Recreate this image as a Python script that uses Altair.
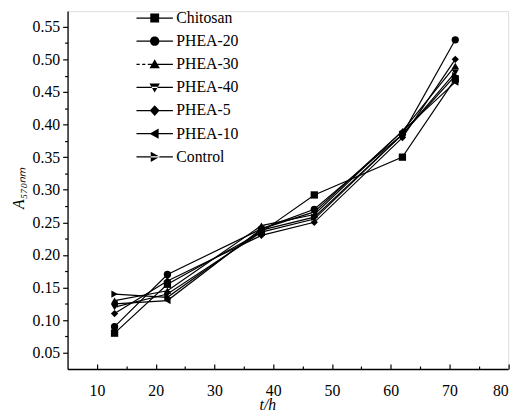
import altair as alt
import pandas as pd

# ---- data ----
times = [13, 22, 38, 47, 62, 71]
series_names = ["Chitosan", "PHEA-20", "PHEA-30", "PHEA-40", "PHEA-5", "PHEA-10", "Control"]
chitosan = [0.080, 0.155, 0.235, 0.292, 0.350, 0.470]
phea20 = [0.090, 0.170, 0.240, 0.270, 0.385, 0.530]
phea30 = [0.130, 0.145, 0.245, 0.262, 0.390, 0.490]
phea40 = [0.120, 0.140, 0.235, 0.255, 0.385, 0.480]
phea5 = [0.110, 0.160, 0.230, 0.250, 0.380, 0.500]
phea10 = [0.125, 0.130, 0.240, 0.266, 0.390, 0.465]
control = [0.140, 0.135, 0.238, 0.258, 0.385, 0.475]
series_values = [chitosan, phea20, phea30, phea40, phea5, phea10, control]

x_major = [10, 20, 30, 40, 50, 60, 70, 80]
x_all_ticks = [10, 15, 20, 25, 30, 35, 40, 45, 50, 55, 60, 65, 70, 75, 80]
y_all_ticks = [0.05, 0.075, 0.10, 0.125, 0.15, 0.175, 0.20, 0.225, 0.25, 0.275, 0.30,
               0.325, 0.35, 0.375, 0.40, 0.425, 0.45, 0.475, 0.50, 0.525, 0.55]

marker_shapes = ["square", "circle", "triangle-up", "triangle-down", "diamond",
                 "triangle-left", "triangle-right"]
# legend symbols: a thin filled bar (the line) plus the marker
LINE = "M-3.7,-0.13L3.7,-0.13L3.7,0.13L-3.7,0.13Z"
DASHED = ("M-3.7,-0.13L-3.05,-0.13L-3.05,0.13L-3.7,0.13Z"
          "M-2.55,-0.13L-1.9,-0.13L-1.9,0.13L-2.55,0.13Z"
          "M-1.4,-0.13L3.7,-0.13L3.7,0.13L-1.4,0.13Z")
legend_paths = [
    LINE + "M-0.9,-0.9L0.9,-0.9L0.9,0.9L-0.9,0.9Z",
    LINE + "M0.95,0A0.95,0.95 0 1,1 -0.95,0A0.95,0.95 0 1,1 0.95,0Z",
    DASHED + "M0,-1.05L1.05,0.8L-1.05,0.8Z",
    LINE + "M0,1.05L1.05,-0.8L-1.05,-0.8Z",
    LINE + "M0,-1.1L1,0L0,1.1L-1,0Z",
    LINE + "M-1.05,0L0.8,-1.05L0.8,1.05Z",
    LINE + "M1.05,0L-0.8,-1.05L-0.8,1.05Z",
]

rows = []
for name, vals in zip(series_names, series_values):
    for t, v in zip(times, vals):
        rows.append({"series": name, "t": t, "A": v})
df = pd.DataFrame(rows)

FONT = "'Liberation Serif', 'Times New Roman', serif"
W, H = 447.5, 363.5
x_scale = alt.Scale(domain=[5, 80], nice=False, zero=False)
y_scale = alt.Scale(domain=[0.025, 0.574], nice=False, zero=False)

lines = alt.Chart(df).mark_line(color="black", strokeWidth=1.2).encode(
    x=alt.X("t:Q", scale=x_scale, axis=alt.Axis(
        orient="bottom", values=x_major, tickSize=0, labelPadding=14,
        labelFont=FONT, labelFontSize=16, labelColor="black",
        domainColor="black", domainWidth=1.3, grid=False,
        title="t/h", titleFont=FONT, titleFontSize=16, titleFontStyle="italic",
        titleFontWeight="normal", titleColor="black", titleX=203, titleY=28,
        titleBaseline="top")),
    y=alt.Y("A:Q", scale=y_scale, axis=alt.Axis(
        orient="left", values=y_all_ticks,
        labelExpr="round(datum.value*1000) % 50 === 0 ? format(datum.value, '.2f') : ''",
        tickSize={"condition": {"test": "round(datum.value*1000) % 50 === 0", "value": 5}, "value": 3},
        tickColor="black", tickWidth=1.2, labelPadding=3,
        labelFont=FONT, labelFontSize=16, labelColor="black",
        domainColor="black", domainWidth=1.3, grid=False,
        title="A₅₇₀ₙₘ", titleFont=FONT, titleFontSize=16, titleFontStyle="italic",
        titleFontWeight="normal", titleColor="black", titleX=-42, titleY=179)),
    detail="series:N",
)

points = alt.Chart(df).mark_point(filled=True, color="black", size=55, opacity=1).encode(
    x=alt.X("t:Q", scale=x_scale, axis=None),
    y=alt.Y("A:Q", scale=y_scale, axis=None),
    shape=alt.Shape("series:N", scale=alt.Scale(domain=series_names, range=marker_shapes), legend=None),
)

xticks = alt.Chart(df).mark_point(opacity=0).encode(
    x=alt.X("t:Q", scale=x_scale, axis=alt.Axis(
        orient="top", offset=-H, values=x_all_ticks, labels=False, domain=False,
        grid=False, title=None, tickColor="black", tickWidth=1.2,
        tickSize={"condition": {"test": "datum.value % 10 === 0", "value": 5}, "value": 3})),
    y=alt.Y("A:Q", scale=y_scale, axis=None),
)

legend_layer = alt.Chart(df).transform_filter("false").mark_point(
    filled=True, color="black", opacity=1
).encode(
    x=alt.X("t:Q", scale=x_scale, axis=None),
    y=alt.Y("A:Q", scale=y_scale, axis=None),
    shape=alt.Shape("series:N", scale=alt.Scale(domain=series_names, range=legend_paths),
                    legend=alt.Legend(
                        orient="none", legendX=80.5, legendY=-1, title=None, padding=0,
                        labelFont=FONT, labelFontSize=16, labelColor="black",
                        labelOffset=14, rowPadding=7.5, symbolSize=100,
                        symbolStrokeWidth=0, symbolFillColor="black", symbolOpacity=1)),
)

chart = alt.layer(lines, points, xticks, legend_layer).resolve_scale(
    shape="independent"
).resolve_axis(
    x="independent", y="independent"
).properties(
    width=W, height=H,
    autosize=alt.AutoSizeParams(type="none"),
    padding={"left": 60.5, "top": 0, "right": 9, "bottom": 41},
).configure_view(stroke=None).configure(background="white", font=FONT)

chart.save("out.html", embed_options={"renderer": "svg", "actions": False})
